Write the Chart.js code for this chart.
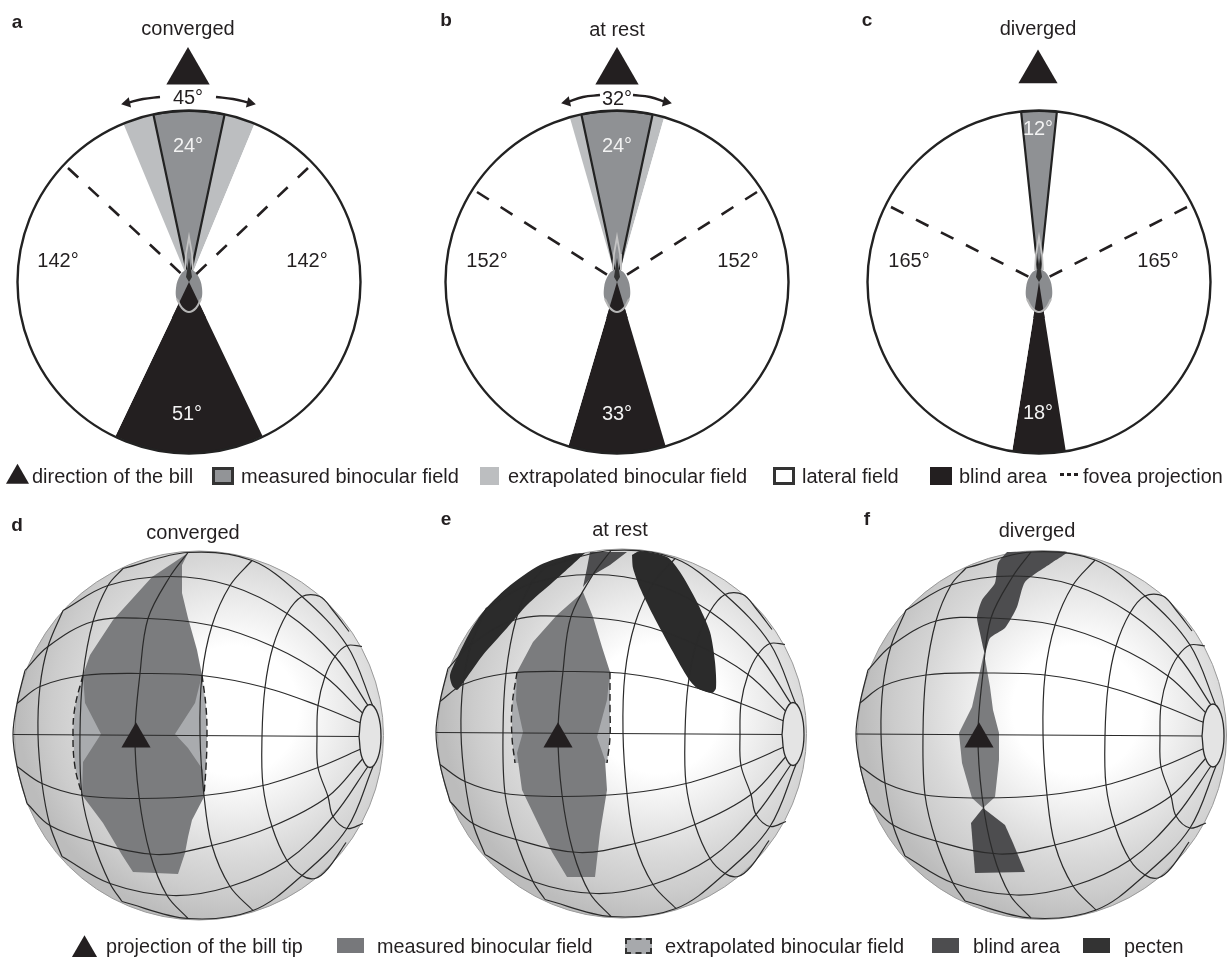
<!DOCTYPE html>
<html>
<head>
<meta charset="utf-8">
<script src="https://cdn.jsdelivr.net/npm/chart.js@4"></script>
<style>
body { margin: 0; background: #fff; width: 1227px; height: 957px; overflow: hidden; position: relative; font-family: "Liberation Sans", sans-serif; color: #231f20; }
canvas { position: absolute; }
.t { position: absolute; transform: translate(-50%, -50%); white-space: nowrap; z-index: 3; font-size: 20px; }
.l { position: absolute; transform: translateY(-50%); white-space: nowrap; z-index: 3; font-size: 20px; }
.b { font-size: 19.8px; }
.w { color: #f2f2f2; }
.p { font-weight: bold; font-size: 19px; }
.s { position: absolute; z-index: 3; box-sizing: border-box; }
</style>
</head>
<body>
<canvas id="pieA" style="left:9px;top:102px"></canvas>
<canvas id="pieB" style="left:437px;top:102px"></canvas>
<canvas id="pieC" style="left:859px;top:102px"></canvas>
<canvas id="main" style="left:0;top:0;z-index:2"></canvas>

<span class="t p" style="left:17px;top:22px">a</span>
<span class="t p" style="left:446px;top:20px">b</span>
<span class="t p" style="left:867px;top:20px">c</span>
<span class="t p" style="left:17px;top:525px">d</span>
<span class="t p" style="left:446px;top:519px">e</span>
<span class="t p" style="left:867px;top:519px">f</span>

<span class="t" style="left:188px;top:28px">converged</span>
<span class="t" style="left:617px;top:29px">at rest</span>
<span class="t" style="left:1038px;top:28px">diverged</span>
<span class="t" style="left:193px;top:532px">converged</span>
<span class="t" style="left:620px;top:529px">at rest</span>
<span class="t" style="left:1037px;top:530px">diverged</span>

<span class="t" style="left:188px;top:97px">45°</span>
<span class="t w" style="left:188px;top:145px">24°</span>
<span class="t" style="left:58px;top:260px">142°</span>
<span class="t" style="left:307px;top:260px">142°</span>
<span class="t w" style="left:187px;top:413px">51°</span>

<span class="t" style="left:617px;top:98px">32°</span>
<span class="t w" style="left:617px;top:145px">24°</span>
<span class="t" style="left:487px;top:260px">152°</span>
<span class="t" style="left:738px;top:260px">152°</span>
<span class="t w" style="left:617px;top:413px">33°</span>

<span class="t w" style="left:1038px;top:128px">12°</span>
<span class="t" style="left:909px;top:260px">165°</span>
<span class="t" style="left:1158px;top:260px">165°</span>
<span class="t w" style="left:1038px;top:412px">18°</span>

<span class="l" style="left:32px;top:476px">direction of the bill</span>
<div class="s" style="left:212px;top:467px;width:22px;height:18px;background:#929497;border:3px solid #333"></div>
<span class="l" style="left:241px;top:476px">measured binocular field</span>
<div class="s" style="left:480px;top:467px;width:19px;height:18px;background:#bcbec0"></div>
<span class="l" style="left:508px;top:476px">extrapolated binocular field</span>
<div class="s" style="left:773px;top:467px;width:22px;height:18px;background:#fff;border:3px solid #333"></div>
<span class="l" style="left:802px;top:476px">lateral field</span>
<div class="s" style="left:930px;top:467px;width:22px;height:18px;background:#231f20"></div>
<span class="l" style="left:959px;top:476px">blind area</span>
<div class="s" style="left:1060px;top:473px;width:4px;height:3px;background:#231f20"></div>
<div class="s" style="left:1067px;top:473px;width:4px;height:3px;background:#231f20"></div>
<div class="s" style="left:1074px;top:473px;width:4px;height:3px;background:#231f20"></div>
<span class="l" style="left:1083px;top:476px;font-size:19.8px">fovea projection</span>

<span class="l b" style="left:106px;top:946px">projection of the bill tip</span>
<div class="s" style="left:337px;top:938px;width:27px;height:15px;background:#77787b"></div>
<span class="l b" style="left:377px;top:946px">measured binocular field</span>
<div class="s" style="left:625px;top:938px;width:27px;height:16px;background:#a7a9ac;border:2px dashed #333"></div>
<span class="l" style="left:665px;top:946px">extrapolated binocular field</span>
<div class="s" style="left:932px;top:938px;width:27px;height:15px;background:#4d4d4f"></div>
<span class="l b" style="left:973px;top:946px">blind area</span>
<div class="s" style="left:1083px;top:938px;width:27px;height:15px;background:#333"></div>
<span class="l b" style="left:1124px;top:946px">pecten</span>

<script>
// slice angles in degrees, clockwise starting right of the measured field
const sliceNames = ['extrapolated', 'lateral', 'blind', 'lateral', 'extrapolated', 'measured'];
const fieldsA = [10.5, 132, 51, 132, 10.5, 24];
const fieldsB = [4, 147.5, 33, 147.5, 4, 24];
const fieldsC = [0, 165, 18, 165, 0, 12];

// top panel centres
const centreA = [189, 282];
const centreB = [617, 282];
const centreC = [1039, 282];

// fovea projection lines, outer end to centre
const foveaA = [[[68, 168], [189, 281]], [[308, 168], [189, 281]]];
const foveaB = [[[477, 192], [617, 281]], [[757, 192], [617, 281]]];
const foveaC = [[[891, 207], [1039, 282]], [[1187, 207], [1039, 282]]];

// bill direction markers
const billTop = [[188, 72], [617, 72], [1038, 72]];
const billSphere = [[136, 739], [558, 739], [979, 739]];
const billLegend = [[17.5, 477]];
const billLegendLow = [[84.5, 952]];

// arrows round the binocular angle
const arrowsA = [[[160, 97], [143, 99], [127, 103]], [[216, 97], [233, 99], [250, 103]]];
const arrowsB = [[[600, 95], [583, 97], [567, 102]], [[633, 95], [650, 97], [666, 102]]];

// eye region, relative to the panel centre
const eyeOval = [[0, -14], [8, -8], [13, 6], [11, 20], [0, 30], [-11, 20], [-13, 6], [-8, -8], [0, -14]];
const eyeArc = [[-12, 17], [-7, 26], [0, 30], [7, 26], [12, 17]];
const eyeSpike = [[-4, -12], [-3, -28], [0, -45], [3, -28], [4, -12]];
const eyeCore = [[0, -24], [-3, -5], [0, 0], [3, -5], [0, -24]];
const wedgeA = [[0, 0], [-17.2, 36], [17.2, 36], [0, 0]];
const wedgeB = [[0, 0], [-10.7, 36], [10.7, 36], [0, 0]];
const wedgeC = [[0, 0], [-5.7, 36], [5.7, 36], [0, 0]];

// sphere centres
const sphereD = [199, 735.5];
const sphereE = [622, 733.5];
const sphereF = [1042, 735];

// sphere grid, relative to the sphere centre
const meridians = [
  [[-11, -183], [-29, -159], [-51, -117], [-59, -62], [-64, -1], [-60, 61], [-49, 118], [-32, 160], [-11, 183]],
  [[-76, -167], [-91, -150], [-106, -114], [-116, -60], [-119, -1], [-117, 60], [-106, 106], [-89, 148], [-77, 166]],
  [[-136, -125], [-151, -89], [-159, -49], [-161, -1], [-157, 48], [-149, 90], [-137, 121]],
  [[-174, -65], [-182, -32], [-186, -1], [-182, 31], [-172, 68]],
  [[53, -175], [31, -150], [13, -110], [3, -60], [1, -1], [5, 60], [13, 110], [31, 151], [54, 175]],
  [[150, -104], [134, -125], [121, -139], [103, -139], [88, -122], [74, -89], [66, -48], [63, 1], [64, 50], [73, 91], [88, 125], [103, 140], [116, 143], [129, 133], [147, 107]],
  [[163, -89], [148, -90], [136, -79], [126, -59], [119, -30], [118, 1], [119, 32], [129, 61], [134, 81], [148, 93], [164, 88]]
];
const parallels = [
  [[-186, -1], [161, 1]],
  [[-182, -32], [-159, -49], [-116, -60], [-59, -62], [3, -60], [66, -48], [119, -30], [163, -12]],
  [[-174, -65], [-151, -89], [-106, -114], [-51, -117], [13, -110], [74, -89], [126, -59], [164, -22]],
  [[-136, -125], [-91, -150], [-29, -159], [31, -150], [88, -122], [136, -79], [169, -30]],
  [[-76, -167], [-11, -183], [53, -175], [103, -139], [148, -90], [174, -29]],
  [[-182, 31], [-157, 48], [-117, 60], [-60, 63], [5, 60], [64, 50], [119, 32], [163, 13]],
  [[-172, 68], [-149, 90], [-106, 106], [-43, 119], [13, 110], [73, 91], [129, 61], [164, 23]],
  [[-137, 121], [-89, 148], [-26, 160], [31, 151], [88, 125], [134, 81], [169, 31]],
  [[-77, 166], [-11, 183], [54, 175], [103, 140], [148, 93], [174, 31]]
];
const poleEllipse = [[160, 1], [163, -21], [171, -31], [179, -21], [182, 1], [179, 22], [171, 32], [163, 22], [160, 1]];

// panel d
const measuredD = [[188, 553], [182, 565], [182, 593], [188, 618], [197, 650], [202, 675], [195, 703], [175, 734], [188, 748], [203, 770], [204, 797], [192, 820], [188, 837], [185, 853], [178, 874], [133, 872], [122, 855], [103, 823], [82, 795], [83, 762], [101, 734], [85, 703], [83, 675], [90, 655], [113, 620], [152, 577], [188, 553]];
const extrapLeftD = [[83, 675], [75, 707], [73, 734], [75, 767], [82, 795]];
const extrapRightD = [[202, 675], [206, 707], [207, 737], [206, 767], [204, 795]];

// panel e
const measuredE = [[583, 592], [593, 617], [602, 647], [610, 672], [607, 700], [597, 737], [605, 760], [607, 790], [600, 833], [595, 877], [567, 877], [552, 852], [535, 817], [522, 790], [517, 753], [523, 732], [516, 700], [517, 672], [533, 642], [557, 615], [583, 592]];
const extrapLeftE = [[517, 672], [512, 707], [512, 737], [515, 763]];
const extrapRightE = [[610, 672], [610, 707], [610, 737], [607, 763]];
const blindE = [[590, 552], [627, 552], [610, 565], [593, 575], [583, 587], [587, 568], [590, 552]];
const pectenLeftE = [[585, 553], [572, 565], [553, 582], [527, 605], [507, 628], [483, 655], [465, 680], [457, 690], [452, 685], [450, 675], [457, 658], [470, 632], [483, 612], [507, 588], [540, 565], [573, 554], [585, 553]];
const pectenRightE = [[632, 555], [640, 551], [667, 557], [680, 572], [697, 602], [710, 632], [715, 662], [716, 688], [712, 693], [697, 688], [688, 678], [673, 652], [653, 615], [640, 588], [633, 568], [632, 555]];

// panel f
const measuredF = [[984, 653], [990, 687], [993, 710], [999, 733], [999, 760], [995, 797], [983, 808], [972, 798], [962, 763], [959, 733], [972, 707], [978, 680], [984, 653]];
const blindUpperF = [[1007, 552], [1067, 552], [1053, 562], [1025, 582], [1017, 607], [1005, 628], [990, 638], [985, 653], [980, 633], [977, 617], [982, 600], [995, 583], [998, 563], [1007, 552]];
const blindLowerF = [[983, 808], [1005, 825], [1013, 843], [1025, 872], [975, 873], [971, 823], [983, 808]];

const dark = '#231f20';
const sliceColours = { extrapolated: '#bcbec0', lateral: '#ffffff', blind: dark, measured: '#8f9194' };

function pie(id, values, rotation) {
  const cv = document.getElementById(id);
  cv.width = 360;
  cv.height = 360;
  new Chart(cv, {
    type: 'pie',
    data: {
      labels: sliceNames,
      datasets: [{
        data: values,
        backgroundColor: sliceNames.map(n => sliceColours[n]),
        borderColor: '#222',
        borderWidth: [0, 0, 0, 0, 0, 2.2]
      }]
    },
    options: {
      responsive: false,
      animation: false,
      events: [],
      rotation: rotation,
      radius: 171,
      layout: { padding: 0 },
      plugins: { legend: { display: false }, tooltip: { enabled: false } }
    }
  });
}
pie('pieA', fieldsA, 12);
pie('pieB', fieldsB, 12);
pie('pieC', fieldsC, 6);

const cv = document.getElementById('main');
cv.width = 1227;
cv.height = 957;
const ctx = cv.getContext('2d');
const datasets = [];

const pts = (list, c) => list.map(p => ({ x: p[0] + (c ? c[0] : 0), y: p[1] + (c ? c[1] : 0) }));
const line = (list, c, color, width, extra) => datasets.push(Object.assign({
  data: pts(list, c), showLine: true, pointRadius: 0, borderColor: color, borderWidth: width, clip: false
}, extra));
const shape = (list, c, color, extra) => datasets.push(Object.assign({
  data: pts(list, c), showLine: true, pointRadius: 0, borderWidth: 0, borderColor: color,
  backgroundColor: color, fill: 'shape', clip: false
}, extra));
const marker = (list, style, radius, extra) => datasets.push(Object.assign({
  data: pts(list), showLine: false, pointStyle: style, pointRadius: radius, pointBorderWidth: 0,
  pointBackgroundColor: dark, pointBorderColor: dark, clip: false
}, extra));

// top panels
[[centreA, foveaA, wedgeA], [centreB, foveaB, wedgeB], [centreC, foveaC, wedgeC]].forEach(([c, fovea, wedge]) => {
  shape(eyeOval, c, '#8a8c8f', { tension: 0.4 });
  shape(wedge, c, dark);
  line(eyeArc, c, '#b5b5b5', 2, { tension: 0.4 });
  line(eyeSpike, c, '#c4c4c4', 1.8);
  shape(eyeCore, c, '#333');
  fovea.forEach(f => line(f, null, dark, 2.6, { borderDash: [14, 14] }));
  marker([c], 'circle', 171.5, { pointBackgroundColor: 'rgba(0,0,0,0)', pointBorderWidth: 2.4, pointBorderColor: '#222' });
});
[arrowsA, arrowsB].forEach(arrows => arrows.forEach((a, i) => {
  line(a, null, dark, 2.4, { tension: 0.4 });
  marker([a[a.length - 1]], 'triangle', 6, { pointRotation: i ? 103 : -103 });
}));
marker(billTop.slice(0, 2), 'triangle', 25);
marker(billTop.slice(2), 'triangle', 22.6);
marker(billLegend, 'triangle', 13.3);
marker(billLegendLow, 'triangle', 16.8);

// spheres
function sphere(c) {
  const g = ctx.createRadialGradient(c[0] + 35, c[1] - 25, 0, c[0] + 35, c[1] - 25, 215);
  g.addColorStop(0, '#ffffff');
  g.addColorStop(0.3, '#ffffff');
  g.addColorStop(0.5, '#ececec');
  g.addColorStop(0.7, '#d8d8d8');
  g.addColorStop(0.85, '#cccccc');
  g.addColorStop(1, '#bcbcbc');
  marker([c], 'circle', 184.5, { pointBackgroundColor: g, pointBorderWidth: 1, pointBorderColor: '#9a9a9a' });
}
function grid(c) {
  meridians.concat(parallels).forEach(l => line(l, c, '#2a2a2a', 1.2, { tension: 0.35 }));
  shape(poleEllipse, c, '#e4e4e4', { tension: 0.4, borderWidth: 1.3, borderColor: '#2a2a2a' });
}

sphere(sphereD);
shape(extrapLeftD.concat(extrapRightD.slice().reverse()), null, '#a9abae');
shape(measuredD, null, '#7b7c7e');
grid(sphereD);
line(extrapLeftD, null, '#222', 1.4, { borderDash: [7, 4], tension: 0.4 });
line(extrapRightD, null, '#222', 1.4, { borderDash: [7, 4], tension: 0.4 });

sphere(sphereE);
shape(extrapLeftE.concat(extrapRightE.slice().reverse()), null, '#a9abae');
shape(measuredE, null, '#7b7c7e');
shape(blindE, null, '#4d4d4f');
shape(pectenLeftE, null, '#2b2b2b', { tension: 0.25 });
shape(pectenRightE, null, '#2b2b2b', { tension: 0.25 });
grid(sphereE);
line(extrapLeftE, null, '#222', 1.4, { borderDash: [7, 4], tension: 0.4 });
line(extrapRightE, null, '#222', 1.4, { borderDash: [7, 4], tension: 0.4 });

sphere(sphereF);
shape(measuredF, null, '#7b7c7e');
shape(blindUpperF, null, '#4d4d4f', { tension: 0.2 });
shape(blindLowerF, null, '#4d4d4f');
grid(sphereF);

marker(billSphere, 'triangle', 16.8);

// Chart.js paints the first dataset last, so hand them over back to front
datasets.reverse();

new Chart(cv, {
  type: 'scatter',
  data: { datasets: datasets },
  options: {
    responsive: false,
    animation: false,
    events: [],
    layout: { padding: 0, autoPadding: false },
    scales: {
      x: { type: 'linear', min: 0, max: 1227, display: false },
      y: { type: 'linear', min: 0, max: 957, reverse: true, display: false }
    },
    plugins: { legend: { display: false }, tooltip: { enabled: false } }
  }
});
</script>
</body>
</html>
